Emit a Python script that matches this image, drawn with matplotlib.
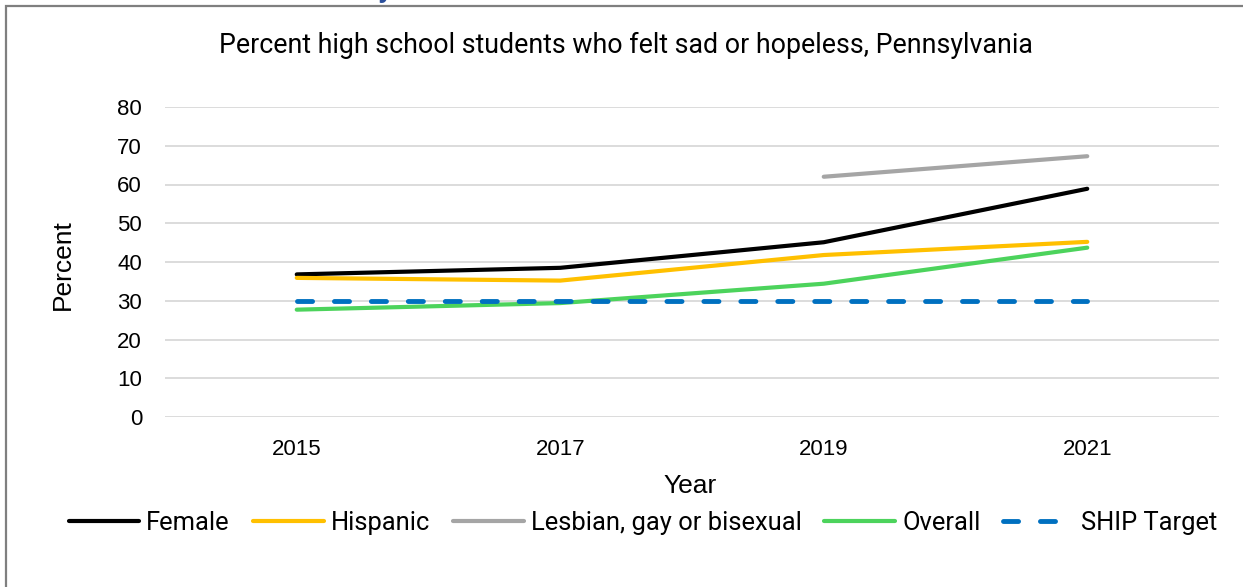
import matplotlib
matplotlib.use('Agg')
import matplotlib.pyplot as plt
from matplotlib.patches import Rectangle
import numpy as np

years = ['2015', '2017', '2019', '2021']
female = [36.8, 38.5, 45.1, 58.9]
hispanic = [35.9, 35.2, 41.8, 45.2]
lgb = [np.nan, np.nan, 62.0, 67.3]
overall = [27.7, 29.4, 34.4, 43.7]
ship_target = [30, 30, 30, 30]

W, H = 1243, 587
fig = plt.figure(figsize=(W / 100, H / 100), dpi=100)
ax = fig.add_axes([165 / W, 1 - 417 / H, (1219 - 165) / W, (417 - 107) / H])

x = np.arange(len(years))
ax.plot(x, female, color='black', lw=3, solid_capstyle='round', label='Female')
ax.plot(x, hispanic, color='#FFC000', lw=3, solid_capstyle='round', label='Hispanic')
ax.plot(x, lgb, color='#A5A5A5', lw=3, solid_capstyle='round', label='Lesbian, gay or bisexual')
ax.plot(x, overall, color='#4CD35C', lw=3, solid_capstyle='round', label='Overall')
ax.plot(x, ship_target, color='#0070C0', lw=3.5, dashes=(3.1, 4.5),
        dash_capstyle='round', label='SHIP Target')

ax.set_xlim(-0.5, 3.5)
ax.set_ylim(0, 80)
ax.set_yticks(np.arange(0, 81, 10))
ax.set_xticks(x)
ax.set_xticklabels(years)
ax.grid(axis='y', color='#D9D9D9', lw=1.3)
ax.set_axisbelow(True)
for s in ax.spines.values():
    s.set_visible(False)
ax.tick_params(length=0, labelsize=16, colors='#000000')
ax.tick_params(axis='y', pad=16.5)
ax.tick_params(axis='x', pad=16)
for lab in ax.get_xticklabels() + ax.get_yticklabels():
    lab.set_family('Liberation Sans')

fig.text(690 / W, 1 - 486 / H, 'Year', ha='center', va='center',
         fontsize=19, family='Liberation Sans')
fig.text(62.5 / W, 1 - 265 / H, 'Percent', ha='center', va='center',
         rotation=90, fontsize=19, family='Liberation Sans')
fig.text(626 / W, 1 - 45 / H, 'Percent high school students who felt sad or hopeless, Pennsylvania',
         ha='center', va='center', fontsize=19.3, family='Roboto')

leg = fig.legend(loc='center', bbox_to_anchor=(643 / W, 1 - 523 / H), ncol=5,
                 frameon=False, handlelength=2.77, handletextpad=0.27, columnspacing=0.9,
                 prop={'family': 'Roboto', 'size': 18.4})

# frame around the chart
fig.patches.append(Rectangle((5.5 / W, -0.05), 1.2, 1 - 6 / H + 0.05, transform=fig.transFigure,
                             fill=False, edgecolor='#7F7F7F', lw=1.6))
# cut off heading glyph at the very top
fig.text(386 / W, 1 + 3 / H, 'y', ha='center', va='baseline', fontsize=22,
         color='#2A4F9B', fontweight='bold', family='Roboto')

fig.savefig('out.png', dpi=100)
